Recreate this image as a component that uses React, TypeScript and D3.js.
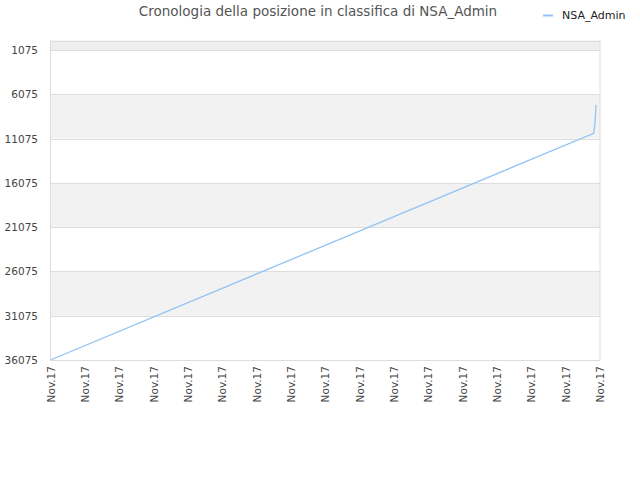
import React, { useRef, useEffect } from 'react'
import * as d3 from 'd3'

// rank over time (x as % of the time span)
const timeSteps = [0, 98.85, 99.09, 99.27]
const ranks = [36075, 10478, 9315, 7283]
const yTicks = [1075, 6075, 11075, 16075, 21075, 26075, 31075, 36075]
const xLabels = Array.from({ length: 17 }, () => 'Nov.17')
const seriesName = 'NSA_Admin'
const title = 'Cronologia della posizione in classifica di NSA_Admin'

const width = 640
const height = 480

const App: React.FC = () => {
  const node = useRef<SVGSVGElement | null>(null)

  useEffect(() => {
    const svg = d3.select(node.current)
    svg.selectAll('*').remove()
    const font = 'DejaVu Sans, sans-serif'
    const margin = { top: 40.5, right: 40, bottom: 120, left: 50.5 }

    const x = d3.scaleLinear().domain([0, 100]).range([margin.left, width - margin.right])
    const y = d3.scaleLinear().domain([0, 36075]).range([margin.top, height - margin.bottom])

    // bands
    svg.append('rect')
      .attr('x', margin.left).attr('y', y(0))
      .attr('width', x(100) - x(0)).attr('height', y(yTicks[0]) - y(0))
      .attr('fill', '#eeeeee')
    for (let i = 0; i < yTicks.length - 1; i++) {
      if (i % 2 === 1) {
        svg.append('rect')
          .attr('x', margin.left).attr('y', y(yTicks[i]))
          .attr('width', x(100) - x(0)).attr('height', y(yTicks[i + 1]) - y(yTicks[i]))
          .attr('fill', '#f2f2f2')
      }
    }

    // grid lines
    svg.append('g').selectAll('line').data([0, ...yTicks]).join('line')
      .attr('x1', x(0)).attr('x2', x(100))
      .attr('y1', (d) => Math.round(y(d)) + 0.5).attr('y2', (d) => Math.round(y(d)) + 0.5)
      .attr('stroke', '#dddddd')
    svg.append('line')
      .attr('x1', x(0)).attr('x2', x(0)).attr('y1', y(0)).attr('y2', y(36075))
      .attr('stroke', '#dddddd')
    svg.append('line')
      .attr('x1', x(100)).attr('x2', x(100)).attr('y1', y(0)).attr('y2', y(36075))
      .attr('stroke', '#dddddd')

    // y labels
    svg.append('g').selectAll('text').data(yTicks).join('text')
      .attr('x', 38).attr('y', (d) => y(d) + 4)
      .attr('text-anchor', 'end')
      .attr('font-family', font).attr('font-size', 10.5).attr('fill', '#444')
      .text((d) => d)

    // x labels
    const xs = d3.scalePoint().domain(xLabels.map((_, i) => String(i))).range([x(0), x(100)])
    svg.append('g').selectAll('text').data(xLabels).join('text')
      .attr('transform', (_, i) => `translate(${xs(String(i))! + 4},${height - margin.bottom + 6}) rotate(-90)`)
      .attr('text-anchor', 'end')
      .attr('font-family', font).attr('font-size', 10.5).attr('fill', '#444')
      .text((d) => d)

    // line
    const pts = timeSteps.map((t, i) => [t, ranks[i]] as [number, number])
    const line = d3.line<[number, number]>().x((d) => x(d[0])).y((d) => y(d[1]))
    svg.append('path').attr('d', line(pts)).attr('fill', 'none')
      .attr('stroke', '#90c4f5').attr('stroke-width', 1.3)

    // title
    svg.append('text')
      .attr('x', 318).attr('y', 16).attr('text-anchor', 'middle')
      .attr('font-family', font).attr('font-size', 13.5).attr('fill', '#555')
      .text(title)

    // legend
    svg.append('line').attr('x1', 543).attr('x2', 553).attr('y1', 15.5).attr('y2', 15.5)
      .attr('stroke', '#90c4f5').attr('stroke-width', 2)
    svg.append('text').attr('x', 562).attr('y', 19)
      .attr('font-family', font).attr('font-size', 11).attr('fill', '#222')
      .text(seriesName)
  }, [])

  return <svg ref={node} width={width} height={height} style={{ position: 'absolute', left: 0, top: 0 }}></svg>
}

export default App
